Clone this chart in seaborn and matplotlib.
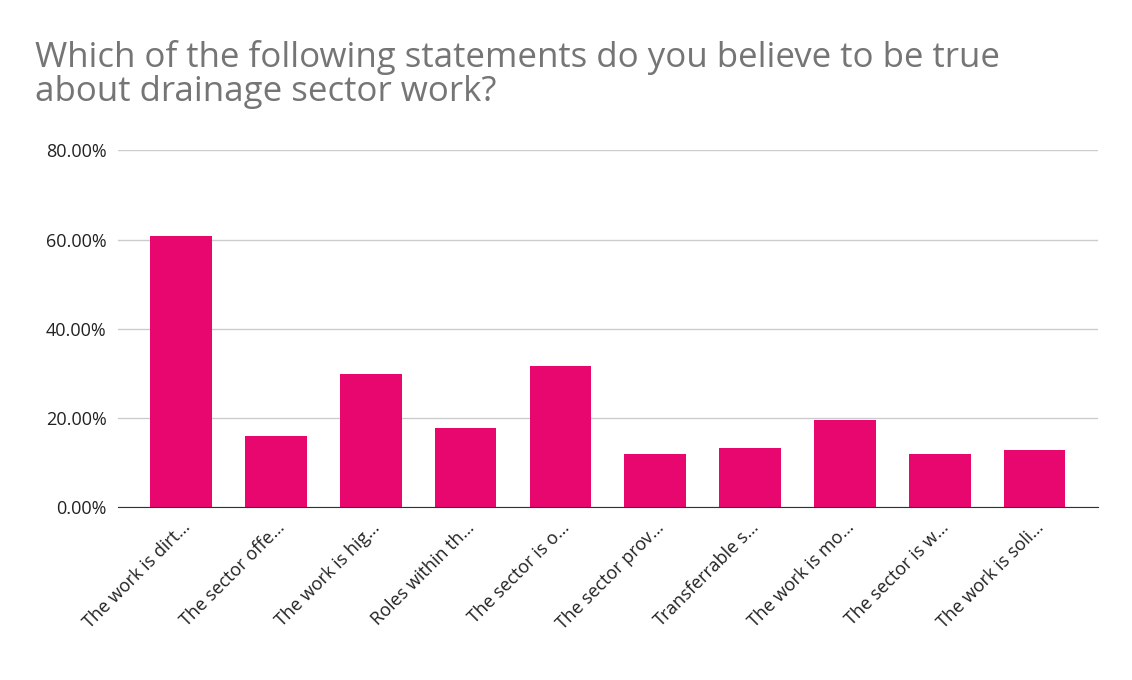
import matplotlib
matplotlib.use("Agg")
import matplotlib.pyplot as plt
import seaborn as sns
import pandas as pd
from matplotlib.ticker import FuncFormatter

categories = ["The work is dirt…", "The sector offe…", "The work is hig…", "Roles within th…",
              "The sector is o…", "The sector prov…", "Transferrable s…", "The work is mo…",
              "The sector is w…", "The work is soli…"]
values = [60.7, 15.9, 29.8, 17.7, 31.6, 11.9, 13.2, 19.5, 11.9, 12.8]
yticks = [0, 20, 40, 60, 80]

plt.rcParams["font.family"] = "Open Sans"
df = pd.DataFrame({"cat": categories, "val": values})
fig = plt.figure(figsize=(11.32, 6.8), dpi=100)
ax = fig.add_axes([0.104, 0.254, 0.866, 0.525])
sns.barplot(data=df, x="cat", y="val", color="#E8066F", saturation=1, width=0.65, ax=ax)
ax.set_ylim(0, 80)
ax.set_yticks(yticks)
ax.yaxis.set_major_formatter(FuncFormatter(lambda v, p: f"{v:.2f}%"))
ax.grid(axis="y", color="#cccccc", linewidth=1)
ax.set_axisbelow(True)
for s in ["top", "right", "left"]:
    ax.spines[s].set_visible(False)
ax.spines["bottom"].set_color("#333333")
ax.tick_params(axis="both", length=0, labelsize=13, colors="#222222", pad=8)
plt.setp(ax.get_xticklabels(), rotation=45, ha="right", rotation_mode="anchor")
ax.set_xlabel("")
ax.set_ylabel("")
ax.set_xlim(-0.67, len(categories) - 1 + 0.67)
fig.text(0.031, 0.84, "Which of the following statements do you believe to be true\nabout drainage sector work?",
         fontsize=25, color="#757575", va="bottom", ha="left", linespacing=1.0)
fig.savefig("out.png", dpi=100)
